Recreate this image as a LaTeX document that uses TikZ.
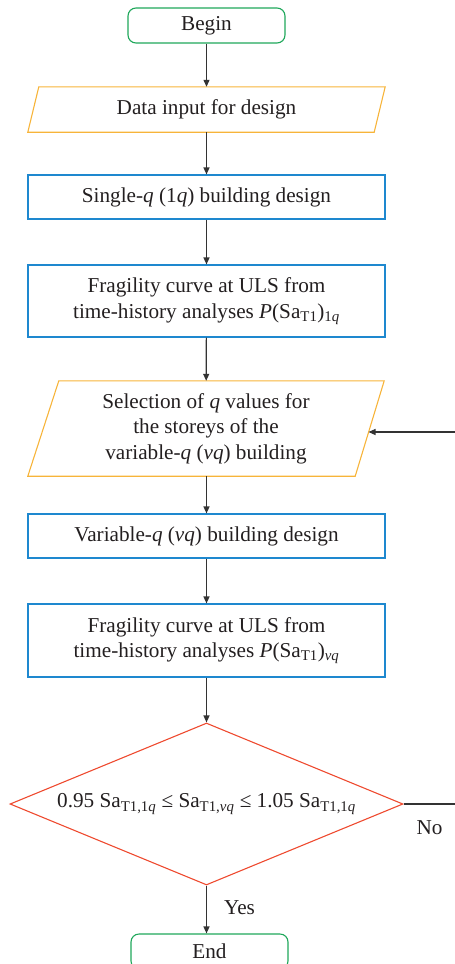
\documentclass[tikz,border=0pt]{standalone}
\usepackage{fontspec}
\setmainfont{Liberation Serif}
\usetikzlibrary{shapes.geometric,arrows.meta}

\definecolor{inkgray}{HTML}{231F20}
\definecolor{linegray}{HTML}{333333}
\definecolor{termgreen}{HTML}{1EA75A}
\definecolor{iogold}{HTML}{F7B43A}
\definecolor{procblue}{HTML}{1E88CF}
\definecolor{decred}{HTML}{EE4A2F}

\newcommand{\sbs}[1]{\textsubscript{#1}}

\tikzset{
  base/.style={text=inkgray, align=center, inner sep=0pt,
    font=\fontsize{21.2}{25.5}\selectfont},
  terminal/.style={base, draw=termgreen, line width=1.1pt, rounded corners=8pt,
    minimum width=157pt, minimum height=35pt},
  iobox/.style={base, minimum width=357pt},
  process/.style={base, draw=procblue, line width=1.1pt, minimum width=357pt},
  decision/.style={base, draw=decred, line width=1.1pt, diamond, aspect=2.43,
    minimum width=393pt, minimum height=162pt},
  ioline/.style={draw=iogold, line width=1.1pt, line join=miter},
  flow/.style={draw=linegray, line width=1.2pt,
    -{Triangle[length=7pt,width=6pt]}},
  plain/.style={draw=linegray, line width=1.2pt},
  lbl/.style={base}
}

\begin{document}
\begin{tikzpicture}[x=1pt, y=-1pt]
  \useasboundingbox (0,0) rectangle (455,964);
  \clip (0,0) rectangle (455,964);

  % nodes
  \node[terminal] (begin) at (206.5,25.5) {Begin};
  \node[iobox, minimum height=45pt] (data) at (206.5,109.5) {Data input for design};
  \node[process, minimum height=44pt] (single) at (206.5,197)
    {Single-\textit{q} (1\textit{q}) building design};
  \node[process, minimum height=72pt] (frag1) at (206.5,301)
    {Fragility curve at ULS from\\time-history analyses \textit{P}(Sa\sbs{T1})\sbs{1\textit{q}}};
  \node[iobox, minimum width=356pt, minimum height=95pt] (sel) at (206,428.5)
    {Selection of \textit{q} values for\\the storeys of the\\variable-\textit{q} (\textit{vq}) building};
  \node[process, minimum height=44pt] (var) at (206.5,536)
    {Variable-\textit{q} (\textit{vq}) building design};
  \node[process, minimum height=73pt] (frag2) at (206.5,640.5)
    {Fragility curve at ULS from\\time-history analyses \textit{P}(Sa\sbs{T1})\sbs{\textit{vq}}};
  \node[decision] (dec) at (206.5,804)
    {0.95 Sa\sbs{T1,1\textit{q}} ≤ Sa\sbs{T1,\textit{vq}} ≤ 1.05 Sa\sbs{T1,1\textit{q}}};
  \node[terminal] (end) at (209.5,951.5) {End};

  % parallelogram outlines of the input/output steps
  \draw[ioline] ([xshift=11pt]data.north west) -- (data.north east)
    -- ([xshift=-11pt]data.south east) -- (data.south west) -- cycle;
  \draw[ioline] ([xshift=31pt]sel.north west) -- (sel.north east)
    -- ([xshift=-29pt]sel.south east) -- (sel.south west) -- cycle;

  % main flow
  \draw[flow] (begin) -- (data);
  \draw[flow] (data) -- (single);
  \draw[flow] (single) -- (frag1);
  \draw[flow] (frag1) -- (sel);
  \draw[flow] (sel.south -| var.north) -- (var);
  \draw[flow] (var) -- (frag2);
  \draw[flow] (frag2) -- (dec.north);
  \draw[flow] (dec.south) -- (dec.south |- end.north);

  % loop back on "No"
  \coordinate (noend) at (460,804);
  \coordinate (backstart) at (460,432);
  \coordinate (backtip) at (368.5,432);
  \draw[plain] (dec.east) -- (noend);
  \draw[flow] (backstart) -- (backtip);

  % branch labels
  \node[lbl] (yes) at (239.5,908) {Yes};
  \node[lbl] (no) at (429.5,828) {No};
\end{tikzpicture}
\end{document}
